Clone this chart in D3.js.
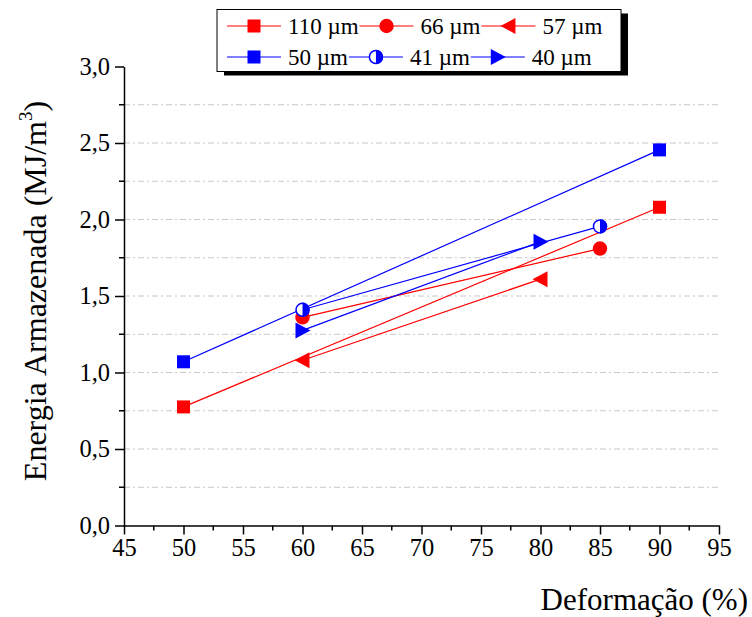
<!DOCTYPE html>
<html>
<head>
<meta charset="utf-8">
<script src="https://cdn.jsdelivr.net/npm/d3@7"></script>
<style>
  body { margin: 0; background: #fff; }
  svg text { font-family: "Liberation Serif", "Times New Roman", serif; }
</style>
</head>
<body>
<div id="chart"></div>
<script>
// values
const seriesNames = ["110 µm", "66 µm", "57 µm", "50 µm", "41 µm", "40 µm"];
const seriesColors = ["#ff0000", "#ff0000", "#ff0000", "#0000ff", "#0000ff", "#0000ff"];
const seriesMarkers = ["square", "circle", "triangleLeft", "square", "halfCircle", "triangleRight"];
const deformation = [
  [50, 90],
  [60, 85],
  [60, 80],
  [50, 90],
  [60, 85],
  [60, 80]
];
const energy = [
  [0.775, 2.08],
  [1.36, 1.81],
  [1.08, 1.61],
  [1.07, 2.455],
  [1.41, 1.955],
  [1.275, 1.855]
];
const xTicks = [45, 50, 55, 60, 65, 70, 75, 80, 85, 90, 95];
const yTicks = [0, 0.5, 1, 1.5, 2, 2.5, 3];
const yGrid = [0.25, 0.5, 0.75, 1, 1.25, 1.5, 1.75, 2, 2.25, 2.5, 2.75];

const FONT = "Liberation Serif";
const width = 752, height = 617;
const svg = d3.select("#chart").append("svg")
  .attr("width", width).attr("height", height)
  .attr("font-family", FONT);

//Scales
const x = d3.scaleLinear().domain([45, 95]).range([124, 719]);
const y = d3.scaleLinear().domain([0, 3]).range([525.5, 66.5]);
const fmt = d => d3.format(".1f")(d).replace(".", ",");

//Gridlines
svg.append("g").selectAll("line").data(yGrid).join("line")
  .attr("x1", x(45)).attr("x2", x(95))
  .attr("y1", d => y(d)).attr("y2", d => y(d))
  .attr("stroke", "#c8c8c8").attr("stroke-width", 1)
  .attr("stroke-dasharray", "6,3,2,3");

//Axes
const xAxis = svg.append("g").attr("transform", `translate(0,${y(0)})`)
  .call(d3.axisBottom(x).tickValues(xTicks).tickSize(9).tickPadding(4).tickSizeOuter(0));
xAxis.append("g").selectAll("line").data(d3.range(47.5, 95, 5)).join("line")
  .attr("x1", d => x(d)).attr("x2", d => x(d)).attr("y1", 0).attr("y2", 5)
  .attr("stroke", "#000").attr("stroke-width", 1.5);

const yAxis = svg.append("g").attr("transform", `translate(${x(45)},0)`)
  .call(d3.axisLeft(y).tickValues(yTicks).tickFormat(fmt).tickSize(9).tickPadding(5).tickSizeOuter(0));
yAxis.append("g").selectAll("line").data(d3.range(0.25, 3, 0.5)).join("line")
  .attr("y1", d => y(d)).attr("y2", d => y(d)).attr("x1", 0).attr("x2", -5)
  .attr("stroke", "#000").attr("stroke-width", 1.5);

svg.selectAll(".domain").attr("stroke", "#000").attr("stroke-width", 1.5);
svg.selectAll(".tick line").attr("stroke", "#000").attr("stroke-width", 1.5);
xAxis.attr("font-family", FONT).attr("font-size", 24);
yAxis.attr("font-family", FONT).attr("font-size", 24);
svg.selectAll(".tick text").attr("fill", "#000").style("font-family", FONT).style("font-size", "24.5px");

//Axis titles
svg.append("text").attr("x", 748).attr("y", 610).attr("text-anchor", "end")
  .attr("font-size", 31).text("Deformação (%)");

const yTitle = svg.append("text").attr("transform", "translate(46,291) rotate(-90)")
  .attr("text-anchor", "middle").attr("font-size", 32);
yTitle.append("tspan").text("Energia Armazenada (MJ/m");
yTitle.append("tspan").attr("font-size", 19).attr("dy", -14).text("3");
yTitle.append("tspan").attr("dy", 14).text(")");

//Markers
function drawMarker(g, type, color, cx, cy) {
  if (type === "square") {
    g.append("rect").attr("x", cx - 6.5).attr("y", cy - 6.5).attr("width", 13).attr("height", 13).attr("fill", color);
  } else if (type === "circle") {
    g.append("circle").attr("cx", cx).attr("cy", cy).attr("r", 7.2).attr("fill", color);
  } else if (type === "triangleLeft") {
    g.append("path").attr("d", `M${cx - 8},${cy}L${cx + 7},${cy - 8}L${cx + 7},${cy + 8}Z`).attr("fill", color);
  } else if (type === "triangleRight") {
    g.append("path").attr("d", `M${cx + 8},${cy}L${cx - 7},${cy - 8}L${cx - 7},${cy + 8}Z`).attr("fill", color);
  } else if (type === "halfCircle") {
    g.append("circle").attr("cx", cx).attr("cy", cy).attr("r", 6.5).attr("fill", "#fff")
      .attr("stroke", color).attr("stroke-width", 1.5);
    g.append("path").attr("d", `M${cx},${cy - 7.2}A7.2,7.2 0 0 1 ${cx},${cy + 7.2}Z`).attr("fill", color);
  }
}

//Series
const line = d3.line().x(d => x(d[0])).y(d => y(d[1]));
seriesNames.forEach((name, i) => {
  const pts = deformation[i].map((d, j) => [d, energy[i][j]]);
  svg.append("path").datum(pts).attr("d", line)
    .attr("fill", "none").attr("stroke", seriesColors[i]).attr("stroke-width", 1.2);
});
seriesNames.forEach((name, i) => {
  const g = svg.append("g");
  deformation[i].forEach((d, j) => drawMarker(g, seriesMarkers[i], seriesColors[i], x(d), y(energy[i][j])));
});

//Legend
const legend = svg.append("g");
const legendBox = { x: 217, y: 9.5, w: 404, h: 62 };
legend.append("rect").attr("x", legendBox.x + 7).attr("y", legendBox.y + 4)
  .attr("width", legendBox.w).attr("height", legendBox.h).attr("fill", "#000");
legend.append("rect").attr("x", legendBox.x).attr("y", legendBox.y)
  .attr("width", legendBox.w).attr("height", legendBox.h)
  .attr("fill", "#fff").attr("stroke", "#000").attr("stroke-width", 1);

const rowY = [26, 57];
[0, 1].forEach(r => {
  let cx = 227;
  for (let k = 0; k < 3; k++) {
    const i = r * 3 + k;
    const cy = rowY[r];
    legend.append("line").attr("x1", cx).attr("x2", cx + 54).attr("y1", cy).attr("y2", cy)
      .attr("stroke", seriesColors[i]).attr("stroke-width", 1.2);
    drawMarker(legend, seriesMarkers[i], seriesColors[i], cx + 27, cy);
    const t = legend.append("text").attr("x", cx + 61).attr("y", cy + 8)
      .attr("font-size", 23).text(seriesNames[i]);
    cx = cx + 61 + t.node().getComputedTextLength() + 1;
  }
});
</script>
</body>
</html>
